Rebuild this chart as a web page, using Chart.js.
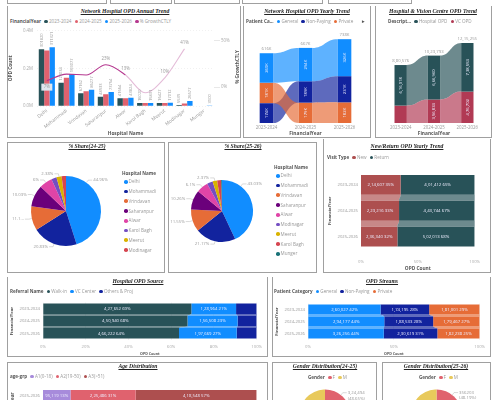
<!DOCTYPE html>
<html>
<head>
<meta charset="utf-8">
<title>Hospital OPD Dashboard</title>
<script src="https://cdn.jsdelivr.net/npm/chart.js@4/dist/chart.umd.min.js"></script>
<style>
  html, body { margin: 0; background: #fff; overflow: hidden; }
  #stage { position: absolute; left: 0; top: 0; width: 500px; height: 400px; overflow: hidden; filter: blur(0.45px); font-family: "Open Sans", sans-serif; }
  #stage canvas { position: absolute; }
  .box { position: absolute; box-sizing: border-box; border: 1px solid #a0a0a0; background: #fff; }
  .title { position: absolute; transform: translate(-50%, -50%); white-space: nowrap; font: italic bold 5.7px "Liberation Serif", serif; text-decoration: underline; color: #222; }
  .legend { position: absolute; white-space: nowrap; font-size: 4.6px; line-height: 6px; color: #999; transform: translateY(-50%); }
  .legend b { color: #555; }
  .legend i { display: inline-block; width: 3.6px; height: 3.6px; border-radius: 50%; margin: 0 1px 0 3.2px; vertical-align: -0.3px; }
  .note { position: absolute; white-space: nowrap; font-size: 4.6px; font-weight: bold; color: #555; }
</style>
</head>
<body>
<div id="stage"></div>
<script>
// ---- data ----
const hospitals = ['Delhi', 'Mohammadi', 'Vrindavan', 'Saharanpur', 'Alwar', 'Karol Bagh', 'Meerut', 'Modinagar', 'Munger'];
const years = ['2023-2024', '2024-2025', '2025-2026'];
const opd2324 = [301820, 123034, 67162, 48933, 41664, 16020, 16427, 5539, null];
const opd2425 = [295000, 150000, 78000, 62000, 41000, 16000, 16000, 13000, null];
const opd2526 = [311321, 169077, 86277, 73754, 43824, 15831, 17012, 26577, 3100];
const growth = [7, 14, 13, 24, 13, -6, 10, 41, null];
const growthLabels = ['7%', '', '', '23%', '13%', '', '10%', '41%', ''];

const patientGeneral = [260027, 294177, 326256];
const patientNonPaying = [174195, 188533, 230619];
const patientPrivate = [181001, 179467, 182238];
const patientTotals = [616019, 666960, 738353];

const hospitalOpd = [616018, 666960, 738553];
const vcOpd = [264558, 356833, 476702];

const share2425Names = ['Delhi', 'Mohammadi', 'Vrindavan', 'Saharanpur', 'Alwar', 'Karol Bagh', 'Meerut', 'Modinagar'];
const share2425 = [44.96, 20.83, 11.1, 10.03, 6, 2.4, 2.38, 2];
const share2425Labels = ['44.96%', '20.83%', '11.1...', '10.03%', '6%', '', '2.38%', ''];
const share2526Names = ['Delhi', 'Mohammadi', 'Vrindavan', 'Saharanpur', 'Alwar', 'Modinagar', 'Meerut', 'Karol Bagh', 'Munger'];
const share2526 = [43.03, 21.17, 11.55, 10.26, 6.1, 3, 2.37, 2.1, 0.42];
const share2526Labels = ['43.03%', '21.17%', '11.55%', '10.26%', '6.1%', '', '2.37%', '', ''];

const visitNew = [214607, 223216, 236340];
const visitReturn = [401412, 443744, 502013];

const walkIn = [427652, 450940, 466222];
const vcCenter = [128964, 156508, 197669];
const othersProj = [59403, 59512, 68500];

const ageYears = ['2025-2026'];
const ageA1 = [95119];
const ageA2 = [225486];
const ageA3 = [418548];

const genderNames = ['F', 'M'];
const gender2425 = [324494, 342466];
const gender2526 = [356203, 382952];
const gender2425Labels = [['3,24,494', '(48.65%)'], ''];
const gender2526Labels = [['356203', '(48.19%)'], ''];

// ---- colours ----
const TEAL = '#285258', RED = '#E0626E', BLUE = '#118DFF', NAVY = '#12239E', ORANGE = '#E66C37';
const BRICK = '#AD4F4F', WINE = '#B13A54', LILAC = '#A78BDB', PLUM = '#B5378F';
const pieColours2425 = [BLUE, NAVY, ORANGE, '#6B007B', '#E044A7', '#744EC2', '#D9B300', '#D64550'];
const pieColours2526 = [BLUE, NAVY, ORANGE, '#6B007B', '#E044A7', '#744EC2', '#D9B300', '#D64550', '#197278'];
const genderColours = ['#E0626E', '#E8C95B'];

const FONT = '"Open Sans", sans-serif';
const stage = document.getElementById('stage');
Chart.defaults.font.family = '"Open Sans", sans-serif';
Chart.defaults.animation = false;
Chart.defaults.responsive = false;
Chart.defaults.plugins.legend.display = false;
Chart.defaults.plugins.tooltip.enabled = false;

// ---- page furniture ----
function box(x0, y0, x1, y1, noTop) {
  const d = document.createElement('div');
  d.className = 'box';
  d.style.cssText = `left:${x0}px;top:${y0}px;width:${x1 - x0}px;height:${y1 - y0}px;` + (noTop ? 'border-top:none;' : '');
  stage.append(d);
}
function title(text, cx, cy) {
  const d = document.createElement('div');
  d.className = 'title';
  d.textContent = text;
  d.style.left = cx + 'px';
  d.style.top = cy + 'px';
  stage.append(d);
}
function legend(x, y, head, names, colours) {
  const d = document.createElement('div');
  d.className = 'legend';
  d.style.left = x + 'px';
  d.style.top = y + 'px';
  d.innerHTML = `<b>${head}</b>` + names.map((n, i) => `<i style="background:${colours[i]}"></i>${n}`).join('');
  stage.append(d);
  return d;
}
function columnLegend(x, y, step, head, names, colours) {
  legend(x, y, head, [], []);
  names.forEach((n, i) => {
    legend(x - 1.2, y + step * 0.85 + step * i, '', [n], [colours[i]]);
  });
}
function note(text, x, y, rot) {
  const d = document.createElement('div');
  d.className = 'note';
  d.textContent = text;
  d.style.left = x + 'px';
  d.style.top = y + 'px';
  d.style.transform = `translate(-50%,-50%) rotate(${rot || 0}deg)`;
  stage.append(d);
}
function canvas(x, y, w, h) {
  const c = document.createElement('canvas');
  c.width = w;
  c.height = h;
  c.style.left = x + 'px';
  c.style.top = y + 'px';
  stage.append(c);
  return c;
}
function label(ctx, str, x, y, font, colour, rot, align) {
  ctx.save();
  ctx.translate(x, y);
  if (rot) ctx.rotate(rot);
  ctx.font = font;
  ctx.fillStyle = colour;
  ctx.textAlign = align || 'center';
  ctx.textBaseline = 'middle';
  ctx.fillText(str, 0, 0);
  ctx.restore();
}
const indian = n => n.toLocaleString('en-IN');
function hexAlpha(hex, a) {
  const n = parseInt(hex.slice(1), 16);
  return `rgba(${n >> 16},${(n >> 8) & 255},${n & 255},${a})`;
}

// ---- plugins ----
const ribbons = {
  id: 'ribbons',
  beforeDatasetsDraw(chart) {
    const ctx = chart.ctx;
    const horizontal = chart.options.indexAxis === 'y';
    chart.data.datasets.forEach((ds, d) => {
      const bars = chart.getDatasetMeta(d).data;
      ctx.fillStyle = hexAlpha(ds.backgroundColor, 0.68);
      for (let i = 0; i + 1 < bars.length; i++) {
        const a = bars[i], b = bars[i + 1];
        ctx.beginPath();
        if (horizontal) {
          const y0 = a.y + a.height / 2, y1 = b.y - b.height / 2, m = (y0 + y1) / 2;
          ctx.moveTo(a.base, y0);
          ctx.bezierCurveTo(a.base, m, b.base, m, b.base, y1);
          ctx.lineTo(b.x, y1);
          ctx.bezierCurveTo(b.x, m, a.x, m, a.x, y0);
        } else {
          const x0 = a.x + a.width / 2, x1 = b.x - b.width / 2, m = (x0 + x1) / 2;
          ctx.moveTo(x0, a.y);
          ctx.bezierCurveTo(m, a.y, m, b.y, x1, b.y);
          ctx.lineTo(x1, b.base);
          ctx.bezierCurveTo(m, b.base, m, a.base, x0, a.base);
        }
        ctx.closePath();
        ctx.fill();
      }
    });
  }
};
const callouts = {
  id: 'callouts',
  afterDatasetsDraw(chart, args, opts) {
    const ctx = chart.ctx;
    chart.getDatasetMeta(0).data.forEach((arc, i) => {
      const text = opts.labels[i];
      if (!text) return;
      const frac = (opts.anchors && opts.anchors[i]) || 0.5;
      const a = arc.startAngle + (arc.endAngle - arc.startAngle) * frac;
      const r = arc.outerRadius;
      const p1 = [arc.x + Math.cos(a) * r, arc.y + Math.sin(a) * r];
      const p2 = [arc.x + Math.cos(a) * (r + 3), arc.y + Math.sin(a) * (r + 3)];
      const dir = Math.cos(a) >= 0 ? 1 : -1;
      const p3 = [p2[0] + dir * 4, p2[1]];
      ctx.strokeStyle = '#b5b5b5';
      ctx.lineWidth = 0.5;
      ctx.beginPath();
      ctx.moveTo(p1[0], p1[1]);
      ctx.lineTo(p2[0], p2[1]);
      ctx.lineTo(p3[0], p3[1]);
      ctx.stroke();
      const lines = Array.isArray(text) ? text : [text];
      lines.forEach((t, k) => label(ctx, t, p3[0] + dir, p3[1] + k * 5.6, '4.3px ' + FONT, '#999', 0, dir > 0 ? 'left' : 'right'));
    });
  }
};

// ---- panel builders ----
function sortedColumns(series) {
  // ribbon charts stack each column from the smallest value up
  const out = series.map(() => []);
  series[0].forEach((_, i) => {
    let base = 0;
    series.map((s, k) => [s[i], k]).sort((p, q) => p[0] - q[0]).forEach(([v, k]) => {
      out[k][i] = [base, base + v];
      base += v;
    });
  });
  return out;
}

function ribbonColumns(opts) {
  const c = canvas(opts.x, opts.y, opts.w, opts.h);
  const cols = sortedColumns(opts.values);
  new Chart(c, {
    type: 'bar',
    data: {
      labels: years,
      datasets: opts.names.map((n, i) => ({
        label: n, data: cols[i], backgroundColor: opts.colours[i],
        grouped: false, barPercentage: opts.barWidth, categoryPercentage: 1
      }))
    },
    options: {
      layout: { padding: { right: opts.right, top: opts.top } },
      scales: {
        x: {
          afterFit: s => { s.height = opts.xHeight; },
          grid: { display: false, drawTicks: false }, border: { display: false },
          ticks: { font: { size: 4.4 }, color: '#999', padding: 2 },
          title: { display: true, text: 'FinancialYear', font: { size: 4.8, weight: 'bold' }, color: '#555', padding: 0 }
        },
        y: {
          min: 0, max: opts.max,
          afterFit: s => { s.width = opts.left; },
          grid: { display: false, drawTicks: false }, border: { display: false },
          ticks: { display: false }
        }
      }
    },
    plugins: [ribbons, {
      id: 'columnText',
      afterDatasetsDraw(chart) {
        const ctx = chart.ctx;
        chart.data.datasets.forEach((ds, d) => {
          chart.getDatasetMeta(d).data.forEach((el, i) => {
            const t = opts.format(opts.values[d][i]);
            ctx.font = '4.2px ' + FONT;
            if (ctx.measureText(t).width < Math.abs(el.base - el.y) - 1) {
              label(ctx, t, el.x, (el.y + el.base) / 2, '4.2px ' + FONT, '#eef', -Math.PI / 2);
            }
          });
        });
        const yScale = chart.scales.y;
        chart.getDatasetMeta(0).data.forEach((el, i) => {
          const top = opts.values.reduce((sum, s) => sum + s[i], 0);
          label(ctx, opts.format(opts.totals ? opts.totals[i] : top), el.x, yScale.getPixelForValue(top) - 4, '4.3px ' + FONT, '#999');
        });
      }
    }]
  });
}

function shareRows(opts) {
  // 100% stacked rows: values become shares of each row's total
  const c = canvas(opts.x, opts.y, opts.w, opts.h);
  const rowTotal = i => opts.values.reduce((sum, s) => sum + s[i], 0);
  new Chart(c, {
    type: 'bar',
    data: {
      labels: opts.rows || years,
      datasets: opts.names.map((n, k) => ({
        label: n,
        data: opts.values[k].map((v, i) => v / rowTotal(i) * 100),
        backgroundColor: opts.colours[k],
        barPercentage: opts.barWidth, categoryPercentage: 1
      }))
    },
    options: {
      indexAxis: 'y',
      layout: { padding: { top: opts.top, right: opts.right } },
      scales: {
        x: {
          stacked: true, min: 0, max: 100,
          afterFit: s => { s.height = opts.xHeight; },
          grid: { display: !!opts.grid, color: '#ececec', lineWidth: 0.6, drawTicks: false },
          border: { display: false },
          ticks: { stepSize: opts.step, font: { size: 4.2 }, color: '#aaa', padding: opts.tickGap, callback: v => v + '%' },
          title: { display: opts.xTitle !== false, text: 'OPD Count', font: { size: opts.xTitleSize, weight: 'bold' }, color: '#555', padding: 0 }
        },
        y: {
          stacked: true,
          afterFit: s => { s.width = opts.left; },
          grid: { display: false, drawTicks: false }, border: { display: false },
          ticks: { font: { size: 4.2 }, color: '#999', padding: 3 },
          title: { display: opts.yTitle !== false, text: 'FinancialYear', font: { size: 4.2, weight: 'bold' }, color: '#555', padding: 0 }
        }
      }
    },
    plugins: [ribbons, {
      id: 'rowText',
      afterDatasetsDraw(chart) {
        const ctx = chart.ctx;
        chart.data.datasets.forEach((ds, k) => {
          chart.getDatasetMeta(k).data.forEach((el, i) => {
            const v = opts.values[k][i];
            const t = indian(v) + ' ' + Math.round(v / rowTotal(i) * 100) + '%';
            ctx.font = '4.3px ' + FONT;
            if (ctx.measureText(t).width < Math.abs(el.x - el.base)) {
              label(ctx, t, (el.x + el.base) / 2, el.y, '4.3px ' + FONT, '#eef');
            }
          });
        });
      }
    }]
  });
}

function pie(x, y, w, h, r, names, values, colours, labels, anchors) {
  const c = canvas(x, y, w, h);
  new Chart(c, {
    type: 'pie',
    data: { labels: names, datasets: [{ data: values, backgroundColor: colours, borderWidth: 0 }] },
    options: {
      radius: r,
      plugins: { callouts: { labels, anchors } }
    },
    plugins: [callouts]
  });
}

// ---- top strip of slicers ----
box(7, -10, 107, 4); box(110, -10, 172, 4); box(174, -10, 240, 4); box(242, -10, 323, 4); box(328, -10, 412, 4);

// ---- panel frames ----
box(7, 6, 241, 138, true);
box(243, 6, 371, 138, true);
box(375, 6, 492, 138, true);
box(7, 142, 165, 273);
box(168, 142, 317, 273);
box(323, 139, 491, 273, true);
box(7, 277, 268, 357, true);
box(272, 277, 491, 357, true);
box(7, 362, 268, 420);
box(272, 362, 377, 420);
box(382, 362, 491, 420);

// ---- Network Hospital OPD Annual Trend ----
title('Network Hospital OPD Annual Trend', 125, 11);
legend(10, 21, 'FinancialYear', [...years, '% GrowthCTLY'], [TEAL, RED, BLUE, PLUM]);
const annual = canvas(8, 24, 232, 113);
new Chart(annual, {
  data: {
    labels: hospitals,
    datasets: [
      { type: 'line', label: '% GrowthCTLY', data: growth, yAxisID: 'y2', borderColor: PLUM, borderWidth: 1.1, pointRadius: 0, cubicInterpolationMode: 'monotone', order: 0,
        segment: { borderColor: ctx => (ctx.p0DataIndex === 4 || ctx.p0DataIndex === 5 || ctx.p0DataIndex === 6) ? '#e4bcd8' : undefined } },
      { type: 'bar', label: years[0], data: opd2324, backgroundColor: TEAL, barPercentage: 1, categoryPercentage: 0.82, order: 1 },
      { type: 'bar', label: years[1], data: opd2425, backgroundColor: RED, barPercentage: 1, categoryPercentage: 0.82, order: 1 },
      { type: 'bar', label: years[2], data: opd2526, backgroundColor: BLUE, barPercentage: 1, categoryPercentage: 0.82, order: 1 }
    ]
  },
  options: {
    layout: { padding: { top: 6 } },
    scales: {
      x: {
        afterFit: s => { s.height = 31; },
        grid: { display: false, drawTicks: false }, border: { display: false },
        ticks: { font: { size: 4.7 }, color: '#999', minRotation: 38, maxRotation: 38, padding: 2, autoSkip: false },
        title: { display: true, text: 'Hospital Name', font: { size: 4.8, weight: 'bold' }, color: '#555', padding: 0 }
      },
      y: {
        min: 0, max: 400000,
        afterFit: s => { s.width = 29; },
        grid: { color: '#e8e8e8', lineWidth: 0.6, drawTicks: false },
        border: { display: false, dash: [1, 2] },
        ticks: { stepSize: 200000, font: { size: 4.4 }, color: '#aaa', padding: 4, callback: v => (v / 1000000).toFixed(1) + 'M' },
        title: { display: true, text: 'OPD Count', font: { size: 4.8, weight: 'bold' }, color: '#555', padding: 0 }
      },
      y2: {
        position: 'right', min: -20.2, max: 60.6,
        afterFit: s => { s.width = 26; },
        grid: { drawOnChartArea: false, color: '#d8d8d8', lineWidth: 0.6, tickLength: 6 },
        border: { display: false },
        ticks: { stepSize: 50, includeBounds: false, font: { size: 4.4 }, color: '#aaa', padding: 1, callback: v => v + '%' }
      }
    }
  },
  plugins: [{
    id: 'annualText',
    afterDatasetsDraw(chart) {
      const ctx = chart.ctx;
      [[1, opd2324], [3, opd2526]].forEach(([d, vals]) => {
        chart.getDatasetMeta(d).data.forEach((el, i) => {
          if (vals[i] != null) label(ctx, String(vals[i]), el.x, el.y - 2, '4px ' + FONT, '#999', -Math.PI / 2, 'left');
        });
      });
      chart.getDatasetMeta(0).data.forEach((pt, i) => {
        const t = growthLabels[i];
        if (!t) return;
        if (i === 0) {
          ctx.fillStyle = '#dfe6ee';
          ctx.fillRect(pt.x - 5.5, pt.y + 3, 11, 7);
          label(ctx, t, pt.x, pt.y + 6.5, '4.4px ' + FONT, '#999');
        } else {
          label(ctx, t, pt.x, pt.y - 6, '4.4px ' + FONT, '#999');
        }
      });
    }
  }]
});
note('% GrowthCTLY', 237, 67, -90);

// ---- Network Hospital OPD Yearly Trend ----
title('Network Hospital OPD Yearly Trend', 307, 11);
legend(246, 21, 'Patient Ca...', ['General', 'Non-Paying', 'Private'], [BLUE, NAVY, ORANGE]);
note('▸', 363, 21);
ribbonColumns({
  x: 244, y: 24, w: 126, h: 113, left: 3, right: 6, top: 6, xHeight: 14,
  names: ['General', 'Non-Paying', 'Private'], values: [patientGeneral, patientNonPaying, patientPrivate],
  colours: [BLUE, NAVY, ORANGE], barWidth: 0.35, max: 820000,
  totals: patientTotals, format: v => Math.round(v / 1000) + 'K'
});

// ---- Hospital & Vision Centre OPD Trend ----
title('Hospital & Vision Centre OPD Trend', 433, 11);
legend(388, 21, 'Descript...', ['Hospital OPD', 'VC OPD'], [TEAL, WINE]);
ribbonColumns({
  x: 376, y: 24, w: 115, h: 113, left: 8, right: 7, top: 6, xHeight: 14,
  names: ['Hospital OPD', 'VC OPD'], values: [hospitalOpd, vcOpd],
  colours: [TEAL, WINE], barWidth: 0.37, max: 1413000,
  format: indian
});

// ---- % Share pies ----
title('% Share(24-25)', 87, 146);
pie(8, 143, 116, 136, 35, share2425Names, share2425, pieColours2425, share2425Labels, [0.22]);
columnLegend(122, 173, 9.75, 'Hospital Name', share2425Names, pieColours2425);

title('% Share(25-26)', 243, 146);
pie(169, 143, 106, 136, 31, share2526Names, share2526, pieColours2526, share2526Labels, [0.24]);
columnLegend(274, 167, 9.75, 'Hospital Name', share2526Names, pieColours2526);

// ---- New/Return OPD Yearly Trend ----
title('New/Return OPD Yearly Trend', 407, 146);
legend(327, 157, 'Visit Type', ['New', 'Return'], [BRICK, TEAL]);
shareRows({
  x: 327, y: 160, w: 163, h: 112, left: 34, right: 6, top: 12, xHeight: 22.5,
  names: ['New', 'Return'], values: [visitNew, visitReturn], colours: [BRICK, TEAL],
  barWidth: 0.77, step: 50, tickGap: 10, xTitleSize: 4.8
});

// ---- Hospital OPD Source ----
title('Hospital OPD Source', 138, 281);
legend(10, 291, 'Referral Name', ['Walk-in', 'VC Center', 'Others & Proj'], [TEAL, BLUE, NAVY]);
shareRows({
  x: 9, y: 296, w: 258, h: 60, left: 34, right: 5, top: 6.5, xHeight: 16.5, grid: true,
  names: ['Walk-in', 'VC Center', 'Others & Proj'], values: [walkIn, vcCenter, othersProj], colours: [TEAL, BLUE, NAVY],
  barWidth: 0.85, step: 20, tickGap: 5, xTitleSize: 3.6
});

// ---- OPD Streams ----
title('OPD Streams', 382, 281);
legend(274, 291, 'Patient Category', ['General', 'Non-Paying', 'Private'], [BLUE, NAVY, ORANGE]);
shareRows({
  x: 274, y: 296, w: 216, h: 60, left: 34, right: 6, top: 7.5, xHeight: 16.5, grid: true,
  names: ['General', 'Non-Paying', 'Private'], values: [patientGeneral, patientNonPaying, patientPrivate], colours: [BLUE, NAVY, ORANGE],
  barWidth: 0.85, step: 50, tickGap: 5, xTitleSize: 3.6
});

// ---- Age Distribution ----
title('Age Distribution', 138, 366);
legend(10, 376, 'age-grp', ['A1(0-18)', 'A2(19-50)', 'A3(>51)'], [LILAC, RED, BRICK]);
shareRows({
  x: 9, y: 383, w: 258, h: 60, left: 34, right: 6, top: 5, xHeight: 40, xTitle: false, yTitle: false,
  rows: ageYears, names: ['A1(0-18)', 'A2(19-50)', 'A3(>51)'], values: [ageA1, ageA2, ageA3], colours: [LILAC, RED, BRICK],
  barWidth: 0.8, step: 20, tickGap: 5, xTitleSize: 4
});
note('FinancialYear', 12, 408, -90);

// ---- Gender pies ----
title('Gender Distribution(24-25)', 325, 366);
legend(308, 377, 'Gender', genderNames, genderColours);
pie(273, 383, 104, 64, 25.5, genderNames, gender2425, genderColours, gender2425Labels, [0.22]);

title('Gender Distribution(25-26)', 436, 366);
legend(419, 377, 'Gender', genderNames, genderColours);
pie(383, 383, 107, 64, 25.5, genderNames, gender2526, genderColours, gender2526Labels, [0.22]);
</script>
</body>
</html>
